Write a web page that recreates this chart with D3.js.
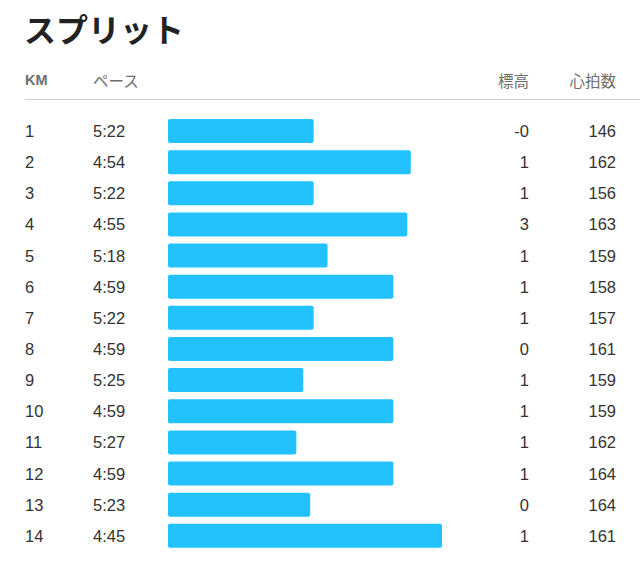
<!DOCTYPE html>
<html>
<head>
<meta charset="utf-8">
<script src="https://cdn.jsdelivr.net/npm/d3@7"></script>
<style>
  body { margin: 0; background: #fff; }
  svg { display: block; }
  text { font-family: "Liberation Sans", "Noto Sans CJK JP", sans-serif; }
</style>
</head>
<body>
<div id="splits"></div>
<script>
// split table data
var km = ["1","2","3","4","5","6","7","8","9","10","11","12","13","14"];
var pace = ["5:22","4:54","5:22","4:55","5:18","4:59","5:22","4:59","5:25","4:59","5:27","4:59","5:23","4:45"];
var elevation = ["-0","1","1","3","1","1","1","0","1","1","1","1","0","1"];
var heartRate = [146,162,156,163,159,158,157,161,159,159,162,164,164,161];
var headers = ["KM","ペース","標高","心拍数"];

var width = 640, height = 574;

var toSec = function(p){
  var a = p.split(":");
  return (+a[0]) * 60 + (+a[1]);
};

var rows = km.map(function(k, i){
  return { km: k, pace: pace[i], sec: toSec(pace[i]), elev: elevation[i], hr: heartRate[i] };
});

var svg = d3.select("#splits").append("svg")
  .attr("width", width)
  .attr("height", height);

// title
svg.append("text")
  .attr("x", 24)
  .attr("y", 42)
  .attr("font-size", "32px")
  .attr("font-weight", "bold")
  .attr("fill", "#222")
  .style("font-family", "'Noto Sans CJK JP', sans-serif")
  .text("スプリット");

// column header
var colX = { km: 25, pace: 93, bar: 168, elev: 529, hr: 616 };
var cjk = "'Noto Sans CJK JP', sans-serif";
var head = svg.append("g").attr("fill", "#6e6e6e").attr("font-size", "15.5px");
head.append("text").attr("x", colX.km).attr("y", 80).attr("dominant-baseline", "central")
  .attr("font-weight", "bold").attr("font-size", "14.5px").text(headers[0]);
head.append("text").attr("x", colX.pace).attr("y", 80).attr("dominant-baseline", "central")
  .style("font-family", cjk).text(headers[1]);
head.append("text").attr("x", colX.elev).attr("y", 80).attr("dominant-baseline", "central")
  .attr("text-anchor", "end").style("font-family", cjk).text(headers[2]);
head.append("text").attr("x", colX.hr).attr("y", 80).attr("dominant-baseline", "central")
  .attr("text-anchor", "end").style("font-family", cjk).text(headers[3]);

svg.append("line")
  .attr("x1", 25).attr("x2", width)
  .attr("y1", 99.5).attr("y2", 99.5)
  .attr("stroke", "#cfcfcf")
  .attr("stroke-width", 1);

// scales
var y = d3.scaleBand()
  .domain(km)
  .range([119, 547.8])
  .paddingInner(0.229)
  .paddingOuter(0);

// faster pace -> longer bar
var x = d3.scaleLinear()
  .domain([364, 285])
  .range([0, 274]);

var row = svg.selectAll(".row")
  .data(rows)
  .enter().append("g")
  .attr("class", "row")
  .attr("transform", function(d){ return "translate(0," + y(d.km) + ")"; });

row.append("rect")
  .attr("x", colX.bar)
  .attr("y", 0)
  .attr("width", function(d){ return x(d.sec); })
  .attr("height", y.bandwidth())
  .attr("rx", 2)
  .attr("fill", "#22c1ff");

var mid = y.bandwidth() / 2;
var addText = function(xPos, anchor, fn){
  row.append("text")
    .attr("x", xPos)
    .attr("y", mid)
    .attr("dominant-baseline", "central")
    .attr("text-anchor", anchor)
    .attr("font-size", "16.5px")
    .attr("fill", "#333")
    .text(fn);
};
addText(colX.km, "start", function(d){ return d.km; });
addText(colX.pace, "start", function(d){ return d.pace; });
addText(colX.elev, "end", function(d){ return d.elev; });
addText(colX.hr, "end", function(d){ return d.hr; });
</script>
</body>
</html>
